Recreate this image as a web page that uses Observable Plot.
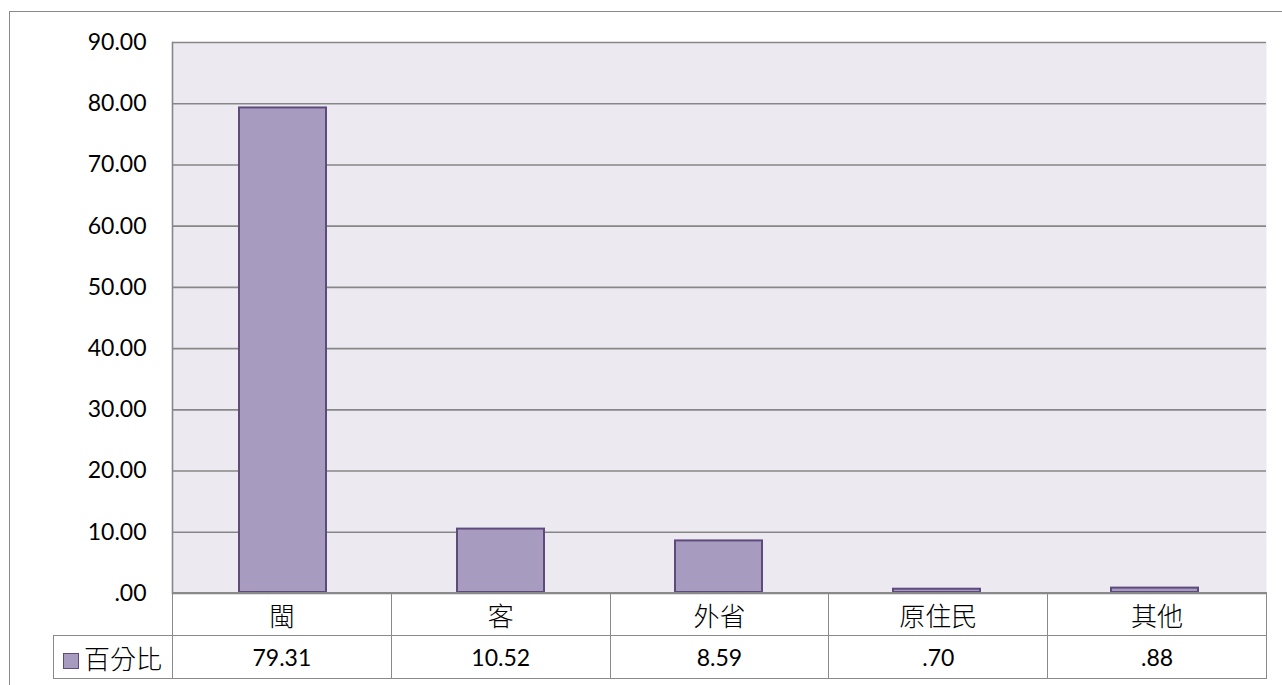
<!DOCTYPE html>
<html><head><meta charset="utf-8">
<script src="https://cdn.jsdelivr.net/npm/d3@7"></script>
<script src="https://cdn.jsdelivr.net/npm/@observablehq/plot@0.6"></script>
<style>
body{margin:0;background:#fff;width:1282px;height:685px;overflow:hidden;position:relative;font-family:Lato,"Noto Sans CJK TC",sans-serif;}
#frame{position:absolute;left:9px;top:11px;right:-5px;bottom:-5px;border-top:1.5px solid #8a8a8a;border-left:1.5px solid #8a8a8a;}
#chart{position:absolute;left:0;top:0;}
#tbl{position:absolute;left:53px;top:592px;border-collapse:collapse;table-layout:fixed;}
#tbl td{border:1.5px solid #8a8a8a;text-align:center;padding:0;color:#000;}
#tbl td.cat{font-family:"Noto Sans CJK TC",sans-serif;font-weight:300;font-size:26px;height:42px;}
#tbl td.val{font-family:Lato,sans-serif;font-size:23px;height:42px;}
#tbl td.blank{border-top:none;border-left:none;}
#tbl td.leg{font-family:"Noto Sans CJK TC",sans-serif;font-weight:300;font-size:26px;text-align:left;white-space:nowrap;}
.key{display:inline-block;width:14px;height:14px;background:#A89BC0;border:1.5px solid #5E4A7D;margin:0 5px 0 9px;vertical-align:0px;}
</style></head>
<body>
<div id="frame"></div>
<div id="chart"></div>
<table id="tbl"></table>
<script>
const categories = ["閩", "客", "外省", "原住民", "其他"];
const seriesName = "百分比";
const values = [79.31, 10.52, 8.59, 0.70, 0.88];
const yTicks = [0, 10, 20, 30, 40, 50, 60, 70, 80, 90];

const fmt = d => d < 1 ? d.toFixed(2).replace(/^0/, "") : d.toFixed(2);
const data = categories.map((c, i) => ({cat: c, value: values[i]}));

const W = 1282, mL = 172, mR = 16;
const chart = Plot.plot({
  width: W, height: 620,
  marginLeft: mL, marginRight: mR, marginTop: 42, marginBottom: 27,
  style: {fontFamily: "Lato, sans-serif", fontSize: "23px", color: "#000", background: "transparent"},
  x: {domain: categories, paddingInner: 0.6, paddingOuter: 0.3, axis: null},
  y: {domain: [0, 90], ticks: yTicks, tickFormat: d => d === 0 ? ".00" : d.toFixed(2), tickSize: 0, tickPadding: 26, label: null},
  marks: [
    Plot.frame({fill: "#ECEAF0", stroke: "none"}),
    Plot.ruleY(yTicks, {stroke: "#878787", strokeWidth: 1.6}),
    Plot.frame({anchor: "left", stroke: "#878787", strokeWidth: 1.6}),
    Plot.barY(data, {x: "cat", y: "value", fill: "#A89BC0", stroke: "#5E4A7D", strokeWidth: 2, insetBottom: 1})
  ]
});
document.getElementById("chart").appendChild(chart);

const step = (W - mL - mR) / categories.length;
const tbl = d3.select("#tbl");
const cg = tbl.append("colgroup");
cg.append("col").style("width", (mL - 53) + "px");
categories.forEach(() => cg.append("col").style("width", step + "px"));
const r1 = tbl.append("tr");
r1.append("td").attr("class", "blank");
categories.forEach(c => r1.append("td").attr("class", "cat").text(c));
const r2 = tbl.append("tr");
r2.append("td").attr("class", "leg").html('<span class="key"></span>' + seriesName);
values.forEach(v => r2.append("td").attr("class", "val").text(fmt(v)));
</script>
</body></html>
